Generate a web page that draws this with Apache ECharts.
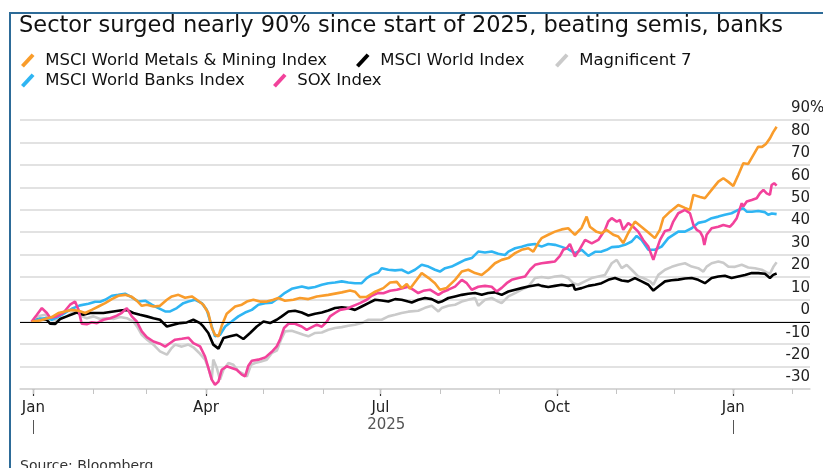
<!DOCTYPE html>
<html>
<head>
<meta charset="utf-8">
<script src="https://cdn.jsdelivr.net/npm/echarts@6/dist/echarts.min.js"></script>
<style>
html, body { margin: 0; padding: 0; background: #fff; }
#chart { width: 823px; height: 468px; }
</style>
</head>
<body>
<div id="chart"></div>
<script>
// [days since 1 Jan 2025, % change since start of 2025]
var metals = [[-1,0],[3.5,0.6],[6.1,1.2],[9.6,2.1],[13,3.9],[16.5,4.6],[20,5.3],[23.5,4.9],[27,3.9],[30.4,5.3],[33.9,6.8],[37.4,8.3],[40.9,10.1],[44.3,11.6],[47.8,12.0],[51.3,11.1],[53.9,9.4],[56.5,7.1],[59.1,7.6],[62.6,6.8],[66,7.1],[69.6,9.8],[72.2,11.3],[75.6,12.0],[79.1,10.7],[82.6,11.3],[85.2,9.8],[88.6,7.6],[91.2,3.9],[93,-2.7],[94.7,-5.8],[96.5,-6.5],[98.2,-1.8],[100.8,3.6],[105.2,6.8],[108.7,7.6],[111.3,9.0],[114.7,9.8],[118.2,9.0],[121.7,9.0],[125.2,9.8],[127.7,10.6],[131.2,9.4],[135.6,9.8],[139,10.6],[143.4,10.1],[147.8,11.3],[153.8,12.0],[160.8,13.1],[165.1,13.9],[167.7,13.4],[170.3,11.0],[173.8,11.1],[178.2,13.4],[182.5,15.0],[186,17.5],[189.5,17.8],[192.1,15.0],[194.7,16.9],[196.4,14.7],[199.9,18.7],[202.5,21.7],[206,19.6],[209.4,17.2],[212,14.3],[215.5,15.1],[219.9,18.7],[223.4,22.4],[226.8,23.2],[230.3,21.7],[233.8,20.9],[237.2,23.2],[240.7,26.1],[244.2,27.6],[247.7,28.4],[251.2,30.6],[254.6,32.1],[258.1,32.8],[260.7,31.3],[263.3,35.2],[265,37.3],[268.5,38.8],[272,40.2],[275.5,41.2],[278.9,41.7],[280.7,40.2],[282.4,38.8],[285.9,41.9],[288.5,46.9],[290.2,42.4],[293.7,40.1],[296.3,39.5],[298.9,41.0],[302.4,38.8],[305,38.0],[307.6,35.1],[310.2,39.6],[313.7,44.7],[317.2,42.3],[320.7,39.8],[324.1,37.3],[326.7,41.0],[328.5,46.2],[332,49.1],[336.3,52.1],[339.8,50.8],[342.4,49.9],[344.2,56.6],[347.7,55.7],[350.2,55.1],[353.7,58.8],[357.2,62.5],[359.8,64.0],[362.4,62.4],[365,60.6],[367.6,65.5],[370.2,70.7],[372.8,70.4],[375.5,74.4],[378,78.1],[380,78.0],[382,79.3],[384.1,81.8],[385.8,84.6],[387.6,87.0]];

var world = [[-1,0],[3.5,1.2],[7,0.9],[8.7,-0.9],[11.3,-1.0],[13.9,1.2],[17.4,2.4],[22.6,4.1],[26,3.1],[29.6,3.9],[33,3.9],[36.5,3.9],[41.7,4.6],[45.2,5.0],[48.7,5.3],[52.1,3.9],[55.6,3.1],[59.1,2.4],[62.6,1.6],[66,0.9],[69.6,-2.1],[73,-1.3],[76.5,-0.6],[80,-0.3],[83.4,0.9],[86.9,-0.6],[88.6,-2.1],[91.2,-5.0],[93.8,-10.2],[96.5,-12.0],[99.1,-7.3],[102.6,-6.5],[106,-5.8],[109.5,-7.7],[113,-5.0],[116.5,-2.1],[120,0.1],[123.4,-0.6],[126.9,0.9],[129.5,2.4],[133,4.6],[136.4,4.9],[139.9,4.1],[143.4,2.8],[146.9,3.6],[150.4,4.1],[153.8,5.0],[157.3,6.1],[160.8,6.5],[164.2,6.1],[167.7,5.3],[171.2,6.8],[174.7,8.3],[178.2,9.8],[181.6,9.5],[185.1,9.0],[188.6,10.1],[192,9.8],[195.5,9.0],[197.3,8.6],[200.7,9.8],[204.2,10.6],[207.7,10.1],[211.2,8.6],[212.9,9.0],[216.4,10.6],[219.9,11.3],[223.4,12.0],[226.8,12.5],[230.3,12.8],[233.8,12.0],[237.2,12.8],[240.7,13.1],[244.2,12.0],[247.7,13.5],[251.2,14.3],[254.6,15.0],[258.1,15.7],[263.3,16.5],[265,16.0],[268.5,15.5],[272,16.0],[275.5,16.5],[278.9,16.0],[281.5,16.5],[282.4,14.3],[285.9,15.0],[289.4,16.0],[292.9,16.5],[296.3,17.2],[299.8,18.7],[303.3,19.5],[306.8,18.4],[310.2,18.0],[313.7,19.5],[317.2,18.0],[320.7,16.5],[323.3,13.9],[325.9,15.7],[329.4,18.0],[332.8,18.5],[336.3,18.8],[339.8,19.3],[343.3,19.5],[346.7,18.7],[350.2,17.2],[353.7,19.5],[357.2,20.2],[360.6,20.5],[364.1,19.5],[367.6,20.2],[371.1,20.9],[374.6,21.7],[378,21.7],[381.5,21.4],[384.1,19.5],[385.8,20.9],[387.6,21.5]];

var mag7 = [[-1,0],[1.8,1.8],[3.5,2.7],[6.1,3.1],[8.7,1.6],[11.3,0.9],[13.9,1.3],[17.4,2.4],[20,4.0],[22.6,4.6],[25.2,2.4],[27.8,1.6],[31.3,2.4],[34.8,1.2],[38.3,1.6],[41.7,1.2],[45.2,2.1],[48.7,1.6],[52.1,0.1],[54.1,-2.2],[56.5,-5.8],[59.3,-8.0],[62.6,-10.2],[66,-13.2],[69.6,-14.7],[71.8,-12.0],[73.9,-10.2],[77.4,-11.1],[80.8,-10.2],[83.4,-11.4],[86.9,-14.3],[89.5,-16.9],[91.2,-20.6],[93,-25.8],[93.8,-16.9],[95.6,-20.5],[97.3,-25.8],[99.1,-21.4],[101.7,-18.4],[104.3,-19.2],[106.9,-22.1],[109.3,-23.2],[111.3,-24.4],[113.5,-19.2],[115.6,-18.4],[118.7,-17.7],[121.7,-16.9],[124.5,-13.8],[126.9,-12.9],[129.1,-8.0],[131.2,-4.3],[134.7,-4.0],[138.2,-5.0],[140.8,-5.8],[143.4,-6.5],[146.9,-5.0],[150.4,-4.8],[153.8,-3.6],[157.3,-2.8],[160.8,-2.4],[164.2,-1.8],[167.7,-1.3],[171.2,-0.6],[174.7,0.9],[178.2,0.9],[181.6,0.9],[185.1,2.4],[188.6,3.1],[192,3.9],[195.5,4.5],[200.7,4.9],[204.2,6.2],[207.7,7.1],[211.2,4.6],[212.9,6.1],[216.4,7.1],[219.9,7.6],[223.4,9.0],[226.8,9.8],[230.3,10.6],[232,7.1],[235.5,9.8],[239,10.6],[242.4,9.0],[244.2,8.3],[247.7,11.3],[251.2,12.8],[254.6,14.3],[258.1,15.7],[261.6,19.5],[265,20.0],[268.5,19.5],[272,20.2],[275.5,20.5],[278.9,19.5],[281.5,17.2],[284.1,16.5],[287.6,18.0],[291.1,19.5],[294.6,20.2],[298.1,20.9],[301.6,26.1],[304.2,27.6],[306.8,23.9],[309.4,25.4],[312,23.2],[315.4,20.2],[318,19.5],[321.6,18.0],[323.3,16.5],[325.9,20.9],[329.4,23.2],[332.9,24.5],[336.3,25.4],[339.8,26.1],[343.3,24.6],[346.7,23.9],[349.4,22.4],[351.1,24.6],[353.7,26.1],[357.2,26.9],[359.8,26.3],[362.4,24.6],[365.9,24.5],[369.4,25.4],[372.8,24.2],[376.3,23.9],[379.8,23.2],[382.4,22.0],[384.1,21.4],[385.9,24.5],[387.6,26.5]];

var banks = [[-1,0],[3.5,1.3],[7,1.6],[9.6,0.9],[13,2.2],[16.5,4.0],[20,5.8],[24.3,7.3],[28.7,8.0],[32.2,8.9],[34.8,8.9],[37.4,9.8],[40.9,11.6],[44.3,12.0],[47.8,12.5],[50.9,11.1],[54.8,9.0],[58.3,9.4],[61.7,7.6],[65.2,6.1],[68.7,4.6],[71.3,4.6],[74.8,6.1],[78.2,8.3],[80.8,9.0],[84.3,9.8],[87.8,8.3],[90.4,5.3],[93,-2.1],[94.7,-6.5],[97.3,-5.8],[100,-2.1],[103.4,0.1],[106.9,2.4],[110.4,4.1],[113.9,5.3],[117.3,7.6],[120.8,8.3],[124.3,8.5],[127.8,10.6],[131.2,12.9],[134.7,14.7],[140,15.7],[143.4,15.0],[146.9,15.5],[150.4,16.5],[153.8,17.2],[157.3,17.5],[160.8,18.0],[164.2,17.5],[167.7,17.2],[171.2,17.2],[173.8,19.5],[176.4,20.9],[179.9,22.0],[181.6,23.9],[185.1,23.2],[188.6,22.9],[192,23.2],[195.5,21.7],[196.4,20.9],[199,23.2],[202.5,25.4],[206,24.6],[209.4,23.2],[212,22.4],[214.7,23.9],[218.1,24.6],[221.6,26.1],[225.1,27.6],[228.6,28.4],[232,31.3],[235.5,30.9],[239,31.3],[242.4,30.3],[245.9,29.8],[247.7,31.3],[251.2,32.8],[254.6,33.5],[258.1,34.3],[261.6,34.7],[265,33.5],[268.5,34.7],[272,34.3],[275.5,33.4],[278.9,32.4],[282.4,30.6],[285.9,32.1],[289.4,29.4],[292.9,31.2],[296.3,31.3],[298.9,32.1],[301.6,33.3],[305,33.5],[308.5,34.3],[312,35.8],[314.6,38.3],[317.2,36.5],[320.7,32.1],[324.1,32.1],[327.6,33.5],[331.1,37.3],[336.3,40.2],[339.8,40.2],[343.3,41.7],[346.7,44.1],[350.2,44.7],[353.7,46.2],[357.2,46.9],[360.6,47.7],[364.1,48.4],[367.6,49.9],[370.2,50.6],[372,49.1],[374.7,49.1],[378,49.4],[381.5,48.9],[383.2,47.7],[385.1,48.3],[387.6,48.0]];

var sox = [[-1,0],[1.8,3.1],[4.4,6.1],[7,3.9],[8.7,1.8],[12.2,2.4],[15.6,4.0],[19.1,7.6],[21.7,9.0],[23.5,5.3],[25.2,-0.9],[27.8,-1.1],[30.4,-0.2],[33.1,-0.6],[36.5,0.9],[40,1.6],[43.5,2.7],[46.1,4.0],[48.7,6.1],[51.3,2.4],[53.9,0.1],[56.5,-4.3],[59.1,-6.9],[62.6,-8.8],[66,-9.8],[68.7,-11.1],[71.3,-9.5],[73.9,-8.0],[77.4,-7.6],[80.8,-7.1],[83.4,-9.5],[86.9,-11.0],[89.5,-15.5],[91.2,-20.5],[93,-25.8],[94.7,-28.1],[96.5,-26.7],[98.2,-21.4],[100.8,-19.9],[103.4,-20.6],[106,-21.4],[108.7,-23.6],[110.4,-24.4],[112.1,-19.6],[113.9,-17.4],[117.3,-16.9],[120.8,-16.0],[124.3,-13.4],[126.9,-11.0],[128.6,-8.0],[130.7,-2.8],[133,-0.9],[136.4,-0.9],[139.9,-2.1],[142.5,-3.6],[145.2,-2.4],[147.8,-1.3],[150.4,-2.2],[153,0],[154.7,2.4],[157.3,3.9],[159.9,5.3],[163.4,5.8],[166.8,7.1],[170.3,8.3],[173.8,9.8],[176.4,11.6],[179.9,12.9],[182.5,12.7],[186,13.8],[189.5,14.3],[193,15.1],[195.5,15.6],[198,14.3],[200.7,12.8],[203.3,13.8],[206.8,14.3],[211.2,12.0],[213.8,13.4],[216.4,14.3],[219.9,15.7],[223.4,18.7],[226,17.2],[228.6,14.3],[232,15.6],[235.5,16.0],[239,15.6],[241.6,13.5],[244.2,15.1],[246.8,17.2],[249.4,18.7],[252.9,19.5],[256.4,20.2],[259,23.2],[261.6,25.4],[265,26.1],[268.5,26.5],[272,26.9],[274.6,29.4],[276.3,32.1],[278.1,32.8],[279.8,34.7],[282.4,29.1],[284.2,31.3],[287.7,36.5],[291.2,35.0],[294.6,36.5],[298.1,41.0],[299.8,44.7],[301.6,46.2],[304.2,44.7],[305.9,45.4],[307.6,41.0],[310.2,44.0],[312.8,42.4],[315.4,40.2],[318,36.5],[320.7,33.5],[323.3,27.6],[325,32.1],[326.8,36.5],[329.4,40.5],[332,41.0],[333.7,44.7],[336.3,48.4],[339.8,49.9],[342.4,48.4],[344.2,43.2],[345.9,41.0],[347.7,40.1],[349,38.0],[349.9,34.3],[351.1,38.8],[353.7,41.7],[357.2,42.4],[359.8,43.2],[363.3,42.4],[365,44.0],[366.8,46.2],[369.4,52.9],[370.2,51.4],[372,53.6],[374.6,54.3],[377.2,55.1],[378.9,57.3],[380.7,58.8],[382.4,57.3],[384.1,56.6],[385,61.0],[386.3,61.8],[387.6,60.7]];

var names = ['MSCI World Metals & Mining Index', 'MSCI World Index', 'Magnificent 7', 'MSCI World Banks Index', 'SOX Index'];
var colors = ['#f99c2b', '#000000', '#cacaca', '#2fb5f3', '#f2429b'];

var quarterTicks = ['2025-01-01', '2025-04-01', '2025-07-01', '2025-10-01', '2026-01-01'];
var monthTicks = ['2025-01-01', '2025-02-01', '2025-03-01', '2025-04-01', '2025-05-01', '2025-06-01', '2025-07-01',
  '2025-08-01', '2025-09-01', '2025-10-01', '2025-11-01', '2025-12-01', '2026-01-01', '2026-02-01'];
var yearTicks = ['2025-01-01', '2026-01-01'];
var yearLabelAt = '2025-07-04';
var monthNames = ['Jan', 'Feb', 'Mar', 'Apr', 'May', 'Jun', 'Jul', 'Aug', 'Sep', 'Oct', 'Nov', 'Dec'];

// the x axis counts days from 1 Jan 2025
var DAY = 86400000;
var BASE = Date.UTC(2025, 0, 1);
function day(s) { return Math.round((new Date(s + 'T00:00:00Z').getTime() - BASE) / DAY); }
function monthOf(d) { return monthNames[new Date(BASE + d * DAY).getUTCMonth()]; }

var FONT = 'DejaVu Sans';
var xMin = -7, xMax = 405;

function line(i, data) {
  return {
    type: 'line', name: names[i], data: data,
    symbol: 'none', showSymbol: false, animation: false,
    lineStyle: { width: 2.6, color: colors[i] },
    itemStyle: { color: colors[i] }
  };
}

var slash = 'path://M0,12 L11,0 L14,2.5 L3,14.5 Z';
function leg(name, left, top) {
  return {
    data: [name], left: left, top: top, padding: 0,
    icon: slash, itemWidth: 15, itemHeight: 14, selectedMode: false,
    itemStyle: { borderWidth: 0 },
    textStyle: { fontFamily: FONT, fontSize: 16.5, color: '#111', padding: [0, 0, 0, 5] }
  };
}

var zeroLine = {
  silent: true, symbol: 'none', animation: false,
  label: { show: false },
  lineStyle: { color: '#000', width: 1.2, type: 'solid' },
  data: [{ yAxis: 0 }]
};

var sMag7 = line(2, mag7);
sMag7.markLine = zeroLine;

var chart = echarts.init(document.getElementById('chart'));
chart.setOption({
  animation: false,
  backgroundColor: '#fff',
  textStyle: { fontFamily: FONT },
  title: {
    text: 'Sector surged nearly 90% since start of 2025, beating semis, banks',
    left: 19, top: 15, padding: 0,
    textStyle: { fontFamily: FONT, fontSize: 22.5, fontWeight: 'normal', color: '#111' }
  },
  legend: [
    leg(names[0], 21, 52), leg(names[1], 356, 52), leg(names[2], 555, 52),
    leg(names[3], 21, 72), leg(names[4], 273, 72)
  ],
  grid: { left: 20, right: 13, top: 120, bottom: 79 },
  xAxis: [{
    type: 'value', min: xMin, max: xMax, position: 'bottom',
    axisLine: { show: true, onZero: false, lineStyle: { color: '#d4d4d4', width: 1.5 } },
    axisTick: { show: true, customValues: quarterTicks.map(day), length: 7, lineStyle: { color: '#333', width: 1.2 } },
    axisLabel: {
      customValues: quarterTicks.map(day), margin: 12, fontSize: 15, color: '#222', fontFamily: FONT,
      formatter: function (v) { return monthOf(v); }
    },
    splitLine: { show: false }
  }, {
    type: 'value', min: xMin, max: xMax, position: 'bottom',
    axisLine: { show: false, onZero: false },
    axisTick: { show: true, customValues: monthTicks.map(day), length: 5, lineStyle: { color: '#c4c4c4', width: 1 } },
    axisLabel: { show: false },
    splitLine: { show: false }
  }, {
    type: 'value', min: xMin, max: xMax, position: 'bottom', offset: 31,
    axisLine: { show: false, onZero: false },
    axisTick: { show: true, customValues: yearTicks.map(day), length: 14, lineStyle: { color: '#555', width: 1 } },
    axisLabel: {
      customValues: [day(yearLabelAt)], margin: -2, fontSize: 15, color: '#555', fontFamily: FONT,
      formatter: function () { return '2025'; }
    },
    splitLine: { show: false }
  }],
  yAxis: {
    type: 'value', position: 'right', min: -30, max: 90, interval: 10,
    axisLine: { show: false }, axisTick: { show: false },
    splitLine: { lineStyle: { color: '#d9d9d9', width: 1.5 } },
    axisLabel: {
      inside: true, margin: 0, verticalAlign: 'bottom', padding: [0, 0, 4, 0],
      fontSize: 15, color: '#222', fontFamily: FONT
    }
  },
  graphic: [
    { type: 'rect', silent: true, shape: { x: 10, y: 13, width: 900, height: 600 },
      style: { fill: 'none', stroke: '#2d6b98', lineWidth: 2 } },
    { type: 'text', x: 810, y: 116, silent: true,
      style: { text: '%', fontSize: 15, fontFamily: FONT, fill: '#222', align: 'left', verticalAlign: 'bottom' } },
    { type: 'text', x: 20, y: 459, silent: true,
      style: { text: 'Source: Bloomberg', fontSize: 14, fontFamily: FONT, fill: '#333' } }
  ],
  series: [sMag7, line(1, world), line(3, banks), line(4, sox), line(0, metals)]
});
</script>
</body>
</html>
